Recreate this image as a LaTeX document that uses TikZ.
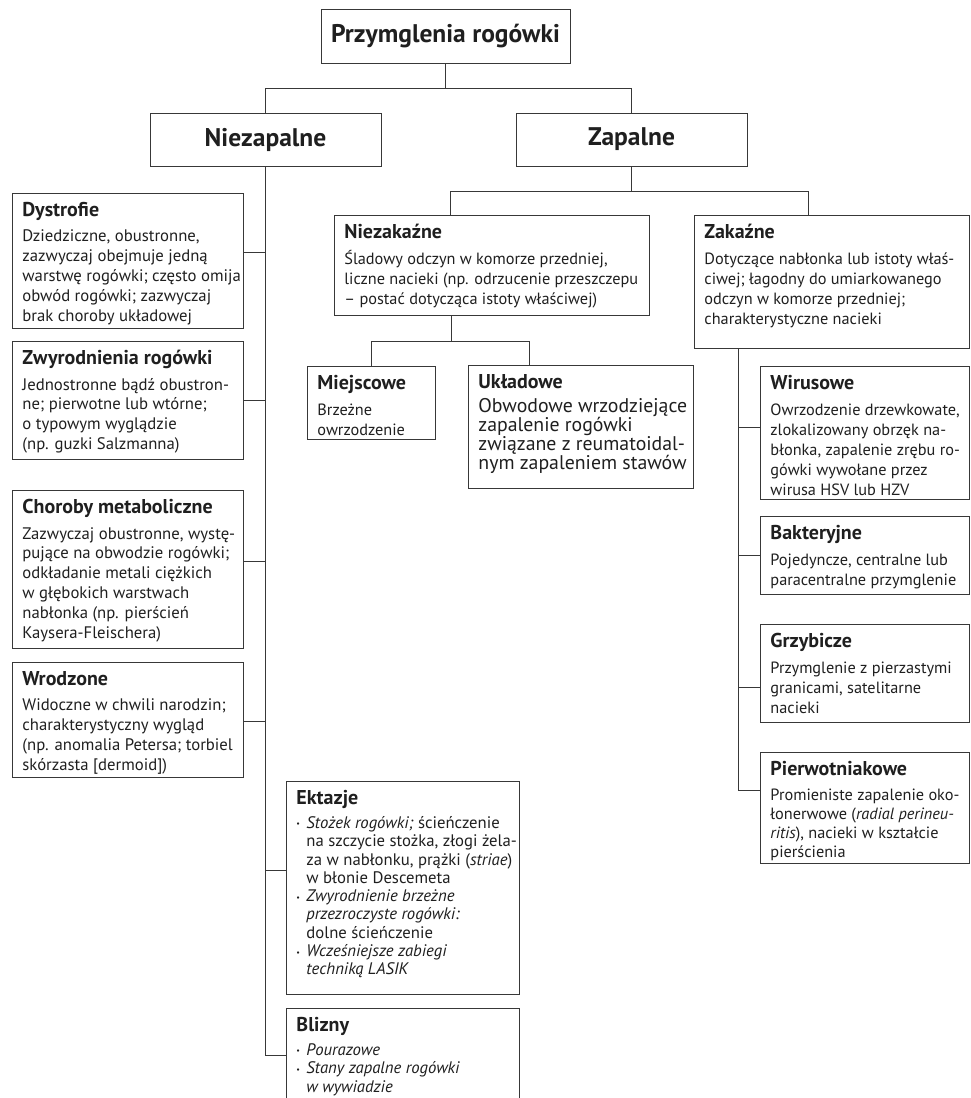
\documentclass[tikz,border=0pt]{standalone}
\usepackage{fontspec}
\setmainfont{PT Sans}
\usetikzlibrary{calc}
\colorlet{Ramka}{black!78}
\colorlet{Tekst}{black!88}

% tresc ramki: szerokosc, wysokosc, tekst
\newcommand{\tresc}[3]{\parbox[c][#2pt][t]{#1pt}{\raggedright\leftskip=10pt\rightskip=-15pt plus 1fil\relax
  \vspace*{9pt}#3}}
\newcommand{\tyt}[1]{{\fontsize{20}{22}\selectfont\bfseries #1\par}\vspace{5.5pt}}
\newcommand{\pkt}{\par\hangindent=10pt\hangafter=1\noindent\makebox[10pt][l]{\raisebox{1.5pt}{\fontsize{8}{8}\selectfont •}}}

\tikzset{
  linia/.style = {draw=Ramka, line width=0.9pt},
  glowny/.style = {draw=Ramka, line width=0.9pt, inner sep=0pt, text=Tekst,
                   font=\fontsize{25.5}{28}\selectfont\bfseries},
  pole/.style = {draw=Ramka, line width=0.9pt, anchor=north west, inner sep=0pt,
                 text=Tekst, font=\fontsize{16.7}{19.8}\selectfont},
  pole2/.style = {pole, font=\fontsize{16.3}{20}\selectfont},
  lista/.style = {pole, font=\fontsize{16.7}{18.3}\selectfont}
}

\begin{document}
\begin{tikzpicture}[x=1pt, y=-1pt]
\clip (0,0) rectangle (970,1098);

% poziom 1 i 2
\node[glowny, minimum width=249pt, minimum height=54pt] (korzen) at (445.5,36) {Przymglenia rogówki};
\node[glowny, minimum width=231pt, minimum height=53pt] (nz) at (265.5,139.5) {Niezapalne};
\node[glowny, minimum width=231pt, minimum height=53pt] (z) at (631.5,139.5) {Zapalne};

\draw[linia] (korzen.south) -- ++(0,25) coordinate (r1) -| (nz.north);
\draw[linia] (r1) -| (z.north);

% niezapalne
\node[pole] (dys) at (12,193) {\tresc{231}{135}{\tyt{Dystrofie}
Dziedziczne, obustronne,\\
zazwyczaj obejmuje jedną\\
warstwę rogówki; często omija\\
obwód rogówki; zazwyczaj\\
brak choroby układowej}};

\node[pole] (zwy) at (12,341) {\tresc{231}{118}{\tyt{Zwyrodnienia rogówki}
Jednostronne bądź obustron-\\
ne; pierwotne lub wtórne;\\
o typowym wyglądzie\\
(np. guzki Salzmanna)}};

\node[pole] (chor) at (12,490) {\tresc{231}{158}{\tyt{Choroby metaboliczne}
Zazwyczaj obustronne, wystę-\\
pujące na obwodzie rogówki;\\
odkładanie metali ciężkich\\
w głębokich warstwach\\
nabłonka (np. pierścień\\
Kaysera-Fleischera)}};

\node[pole] (wro) at (12,662) {\tresc{231}{115}{\tyt{Wrodzone}
Widoczne w chwili narodzin;\\
charakterystyczny wygląd\\
(np. anomalia Petersa; torbiel\\
skórzasta [dermoid])}};

\node[lista] (ekt) at (286,781) {\tresc{233}{213}{\tyt{Ektazje}
\pkt\textit{Stożek rogówki;} ścieńczenie\newline
na szczycie stożka, złogi żela-\newline
za w nabłonku, prążki (\textit{striae})\newline
w błonie Descemeta
\pkt\textit{Zwyrodnienie brzeżne}\newline
\textit{przezroczyste rogówki:}\newline
dolne ścieńczenie
\pkt\textit{Wcześniejsze zabiegi}\newline
\textit{techniką LASIK}}};

\node[lista] (bli) at (286,1008) {\tresc{233}{130}{\tyt{Blizny}
\pkt\textit{Pourazowe}
\pkt\textit{Stany zapalne rogówki}\newline
\textit{w wywiadzie}}};

\draw[linia] (nz.south) |- ($(bli.north west)+(0,47)$);
\foreach \n/\f in {dys/0.44, zwy/0.5, chor/0.45, wro/0.51}
  \draw[linia] (nz.south) |- ($(\n.north east)!\f!(\n.south east)$);
\draw[linia] (nz.south) |- ($(ekt.north west)!0.42!(ekt.south west)$);

% zapalne
\node[pole2] (nzk) at (334,215) {\tresc{315}{100}{\tyt{Niezakaźne}
Śladowy odczyn w komorze przedniej,\\
liczne nacieki (np. odrzucenie przeszczepu\\
– postać dotycząca istoty właściwej)}};

\node[pole2] (zk) at (694,215) {\tresc{275}{133}{\tyt{Zakaźne}
Dotyczące nabłonka lub istoty właś-\\
ciwej; łagodny do umiarkowanego\\
odczyn w komorze przedniej;\\
charakterystyczne nacieki}};

\draw[linia] (z.south) -- ++(0,25) coordinate (r2);
\draw[linia] (r2) -| ($(nzk.north west)+(116,0)$);
\draw[linia] (r2) -| ($(zk.north west)+(114,0)$);

\node[pole2] (miej) at (307,366) {\tresc{128}{73}{\tyt{Miejscowe}
Brzeżne\\
owrzodzenie}};

\node[pole, font=\fontsize{19.8}{19}\selectfont] (ukl) at (468,365) {\tresc{225}{123}{\tyt{Układowe}
Obwodowe wrzodziejące\\
zapalenie rogówki\\
związane z reumatoidal-\\
nym zapaleniem stawów}};

\draw[linia] ($(nzk.south west)+(117,0)$) -- ++(0,26) coordinate (r3);
\draw[linia] (r3) -| (miej.north);
\draw[linia] (r3) -| ($(ukl.north west)+(61,0)$);

\node[pole2] (wir) at (760,366) {\tresc{209}{133}{\tyt{Wirusowe}
Owrzodzenie drzewkowate,\\
zlokalizowany obrzęk na-\\
błonka, zapalenie zrębu ro-\\
gówki wywołane przez\\
wirusa HSV lub HZV}};

\node[pole2] (bak) at (760,516) {\tresc{209}{78}{\tyt{Bakteryjne}
Pojedyncze, centralne lub\\
paracentralne przymglenie}};

\node[pole2] (grz) at (760,624) {\tresc{209}{98}{\tyt{Grzybicze}
Przymglenie z pierzastymi\\
granicami, satelitarne\\
nacieki}};

\node[pole2, font=\fontsize{16.3}{19}\selectfont] (pie) at (760,752) {\tresc{209}{111}{\tyt{Pierwotniakowe}
Promieniste zapalenie oko-\\
łonerwowe (\textit{radial perineu-}\\
\textit{ritis}), nacieki w kształcie\\
pierścienia}};

\coordinate (zs) at ($(zk.south west)+(44,0)$);
\draw[linia] (zs) |- ($(pie.north west)!0.34!(pie.south west)$);
\foreach \n/\f in {wir/0.46, bak/0.5, grz/0.64}
  \draw[linia] (zs) |- ($(\n.north west)!\f!(\n.south west)$);

\end{tikzpicture}
\end{document}
